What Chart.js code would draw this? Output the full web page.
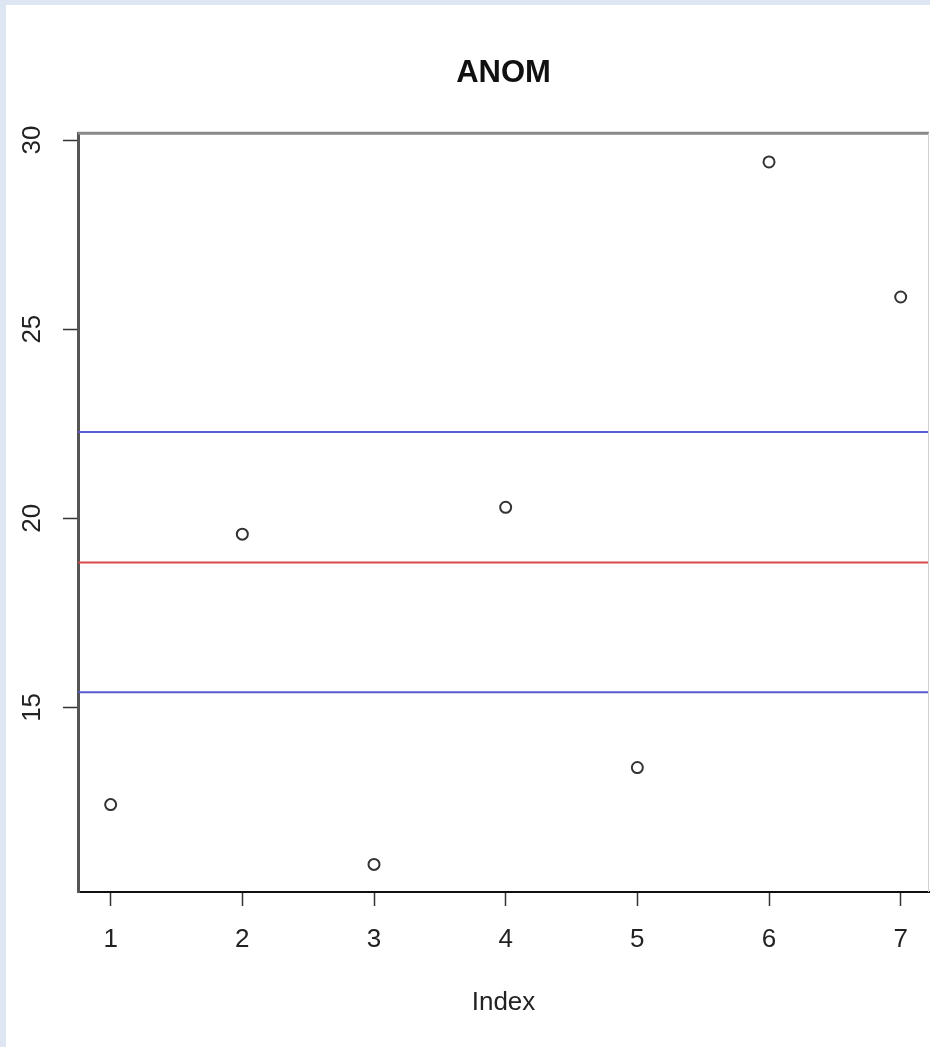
<!DOCTYPE html>
<html>
<head>
<meta charset="utf-8">
<script src="https://cdn.jsdelivr.net/npm/chart.js@4/dist/chart.umd.min.js"></script>
<style>
  html, body { margin: 0; padding: 0; background: #dfe6f3; overflow: hidden; }
  #panel { position: absolute; left: 6px; top: 5px; width: 924px; height: 1042px; background: #fff; }
  canvas { display: block; }
</style>
</head>
<body>
<div id="panel"><canvas id="anomChart" width="924" height="1042"></canvas></div>
<script>
const FONT = '"Liberation Sans", Arial, Helvetica, sans-serif';

const indexValues = [1, 2, 3, 4, 5, 6, 7];
const anomValues = [12.43, 19.58, 10.85, 20.29, 13.41, 29.42, 25.85];

// reference lines: centre line and the two limits
const centerLine = 18.83;
const upperLimit = 22.28;
const lowerLimit = 15.40;

const xTicks = [1, 2, 3, 4, 5, 6, 7];
const yTicks = [15, 20, 25, 30];
const xRange = [0.752, 7.215];
const yRange = [10.12, 30.18];

function hline(value, color) {
  return {
    type: 'line',
    data: [{ x: xRange[0], y: value }, { x: xRange[1], y: value }],
    borderColor: color,
    borderWidth: 2,
    pointRadius: 0,
    fill: false
  };
}

// rotated y labels + the top/right sides of the box
const boxAndLabels = {
  id: 'boxAndLabels',
  afterDraw(chart) {
    const { ctx, chartArea: a } = chart;
    const y = chart.scales.y;
    ctx.save();
    ctx.strokeStyle = '#8a8a8a';
    ctx.lineWidth = 3;
    ctx.beginPath();
    ctx.moveTo(a.left, a.top);
    ctx.lineTo(a.right, a.top);
    ctx.stroke();
    ctx.strokeStyle = '#d0d0d0';
    ctx.lineWidth = 1;
    ctx.beginPath();
    ctx.moveTo(a.right - 0.5, a.top);
    ctx.lineTo(a.right - 0.5, a.bottom);
    ctx.stroke();

    ctx.fillStyle = '#222';
    ctx.font = '26px ' + FONT;
    ctx.textAlign = 'center';
    ctx.textBaseline = 'middle';
    y.ticks.forEach(t => {
      const py = y.getPixelForValue(t.value);
      ctx.save();
      ctx.translate(27, py);
      ctx.rotate(-Math.PI / 2);
      ctx.fillText(String(t.value), 0, 0);
      ctx.restore();
    });
    ctx.restore();
  }
};

new Chart(document.getElementById('anomChart'), {
  type: 'scatter',
  data: {
    datasets: [
      {
        label: 'ANOM',
        data: indexValues.map((x, i) => ({ x, y: anomValues[i] })),
        pointStyle: 'circle',
        pointRadius: 5.5,
        pointBorderWidth: 2,
        pointBorderColor: '#333',
        pointBackgroundColor: 'rgba(0,0,0,0)',
        showLine: false
      },
      hline(upperLimit, '#5a5ad2'),
      hline(centerLine, '#d84848'),
      hline(lowerLimit, '#5a5ad2')
    ]
  },
  options: {
    responsive: false,
    animation: false,
    events: [],
    layout: { autoPadding: false, padding: { left: 0, right: 1, top: 0, bottom: 0 } },
    plugins: {
      legend: { display: false },
      tooltip: { enabled: false },
      title: {
        display: true,
        fullSize: false,
        text: 'ANOM',
        color: '#111',
        font: { family: FONT, size: 31, weight: 'bold', lineHeight: 1.2 },
        padding: { top: 50, bottom: 41 }
      }
    },
    scales: {
      x: {
        type: 'linear',
        min: xRange[0],
        max: xRange[1],
        afterBuildTicks: s => { s.ticks = xTicks.map(v => ({ value: v })); },
        afterFit: s => { s.height = 155; s.paddingLeft = 0; s.paddingRight = 0; },
        ticks: {
          color: '#222',
          font: { family: FONT, size: 26 },
          padding: 18
        },
        grid: { drawOnChartArea: false, tickLength: 14, tickColor: '#333', tickWidth: 1.5 },
        border: { color: '#111', width: 2 },
        title: {
          display: true,
          text: 'Index',
          color: '#222',
          font: { family: FONT, size: 26 },
          padding: { top: 0, bottom: 29 }
        }
      },
      y: {
        min: yRange[0],
        max: yRange[1],
        afterBuildTicks: s => { s.ticks = yTicks.map(v => ({ value: v })); },
        afterFit: s => { s.width = 72; },
        ticks: { display: false },
        grid: { drawOnChartArea: false, tickLength: 15, tickColor: '#333', tickWidth: 1.5 },
        border: { color: '#555', width: 3 }
      }
    }
  },
  plugins: [boxAndLabels]
});
</script>
</body>
</html>
